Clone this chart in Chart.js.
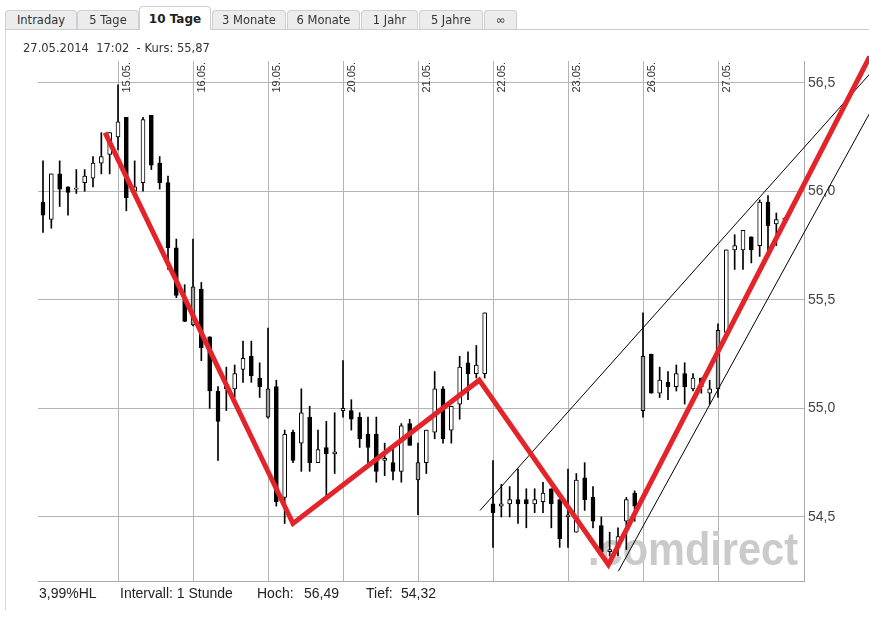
<!DOCTYPE html>
<html>
<head>
<meta charset="utf-8">
<script src="https://cdn.jsdelivr.net/npm/chart.js@4/dist/chart.umd.min.js"></script>
<style>
    body { margin: 0; background: #fff; width: 869px; height: 633px; overflow: hidden; position: relative;
           font-family: 'DejaVu Sans', Verdana, sans-serif; color: #333; }
    #chart { position: absolute; left: 0; top: 0; }
    .panel { position: absolute; left: 5px; top: 29px; width: 880px; height: 580px;
             border-left: 1px solid #d6d6d6; border-top: 1px solid #cccccc; }
    .tab { position: absolute; top: 10px; height: 19px; box-sizing: border-box; background: #ececec;
           border: 1px solid #cfcfcf; border-bottom: none; border-radius: 4px 4px 0 0;
           font-size: 11.5px; line-height: 18px; text-align: center; color: #333; }
    .tab.active { top: 6px; height: 24px; background: #fff; font-weight: bold; font-size: 12px;
                  line-height: 24px; color: #222; z-index: 2; }
    .head { position: absolute; left: 23px; top: 41px; font-size: 11.5px; white-space: pre; color: #333; }
    .foot { position: absolute; top: 585px; font-family: 'Liberation Sans', Arial, sans-serif;
            font-size: 14px; line-height: 16px; color: #222; white-space: pre; }
</style>
</head>
<body>
<canvas id="chart" width="869" height="633"></canvas>
<div class="panel"></div>
<div class="tab" style="left:5px;width:72px">Intraday</div>
<div class="tab" style="left:77px;width:62px">5 Tage</div>
<div class="tab active" style="left:139px;width:72px">10 Tage</div>
<div class="tab" style="left:212px;width:74px">3 Monate</div>
<div class="tab" style="left:287px;width:73px">6 Monate</div>
<div class="tab" style="left:361px;width:57px">1 Jahr</div>
<div class="tab" style="left:419px;width:64px">5 Jahre</div>
<div class="tab" style="left:484px;width:33px">∞</div>
<div class="head">27.05.2014  17:02  - Kurs: 55,87</div>
<div class="foot" style="left:39px">3,99%HL</div>
<div class="foot" style="left:120px">Intervall: 1 Stunde</div>
<div class="foot" style="left:257px">Hoch:</div>
<div class="foot" style="left:304px">56,49</div>
<div class="foot" style="left:366px">Tief:</div>
<div class="foot" style="left:401px">54,32</div>
<script>
// Handelstage, je 9 Stundenkerzen
const days = ['14.05.', '15.05.', '16.05.', '19.05.', '20.05.', '21.05.', '22.05.', '23.05.', '26.05.', '27.05.'];
const candlesPerDay = 9;

const opens = [
    55.95, 55.87, 56.08, 56.02, 56.01, 56.04, 56.06, 56.13, 56.17,
    56.25, 56.34, 56.00, 56.04, 56.35, 56.13, 56.04, 55.74, 55.50,
    55.56, 55.55, 55.33, 55.08, 55.09, 55.09, 55.18, 55.24, 55.14,
    55.09, 55.10, 54.59, 54.89, 54.84, 54.96, 54.75, 54.82, 54.79,
    54.99, 54.99, 54.96, 54.88, 54.88, 54.76, 54.75, 54.71, 54.93,
    54.75, 54.75, 54.89, 55.09, 54.90, 55.02, 55.21, 55.16, 55.16,
    54.56, 54.55, 54.56, 54.58, 54.58, 54.56, 54.57, 54.63, 54.58,
    54.50, 54.43, 54.68, 54.59, 54.46, 54.34, 54.36, 54.48, 54.61,
    55.24, 55.25, 55.07, 55.12, 55.10, 55.16, 55.09, 55.14, 55.07,
    55.36, 55.35, 55.73, 55.73, 55.79, 55.75, 55.95, 55.85, 55.87
];
const highs = [
    56.14, 56.08, 56.14, 56.02, 56.10, 56.10, 56.16, 56.27, 56.27,
    56.49, 56.34, 56.14, 56.34, 56.35, 56.16, 56.07, 55.78, 55.57,
    55.78, 55.58, 55.33, 55.10, 55.19, 55.20, 55.31, 55.31, 55.21,
    55.37, 55.13, 54.90, 54.90, 55.09, 55.01, 54.90, 54.94, 54.98,
    55.22, 55.04, 54.98, 54.96, 54.96, 54.84, 54.82, 54.93, 54.95,
    54.84, 54.90, 55.17, 55.10, 55.01, 55.24, 55.26, 55.29, 55.44,
    54.76, 54.65, 54.64, 54.72, 54.63, 54.63, 54.66, 54.63, 54.58,
    54.72, 54.70, 54.75, 54.64, 54.50, 54.43, 54.45, 54.59, 54.62,
    55.44, 55.25, 55.19, 55.17, 55.20, 55.21, 55.16, 55.14, 55.13,
    55.39, 55.73, 55.80, 55.82, 55.79, 55.96, 55.98, 55.90, 55.88
];
const lows = [
    55.81, 55.83, 55.93, 55.89, 55.99, 56.00, 56.02, 56.08, 56.08,
    56.19, 55.91, 55.99, 56.00, 56.10, 56.01, 55.64, 55.51, 55.40,
    55.38, 55.22, 55.00, 54.76, 54.99, 55.05, 55.12, 55.12, 55.05,
    54.955, 54.55, 54.47, 54.75, 54.71, 54.71, 54.75, 54.59, 54.70,
    54.96, 54.90, 54.82, 54.73, 54.66, 54.69, 54.67, 54.66, 54.83,
    54.51, 54.70, 54.86, 54.84, 54.84, 54.95, 55.04, 55.14, 55.14,
    54.36, 54.50, 54.50, 54.47, 54.45, 54.52, 54.52, 54.45, 54.36,
    54.36, 54.43, 54.53, 54.45, 54.32, 54.32, 54.32, 54.35, 54.48,
    54.96, 55.07, 55.05, 55.04, 55.08, 55.02, 55.08, 55.07, 55.02,
    55.05, 55.35, 55.64, 55.64, 55.67, 55.70, 55.71, 55.75, 55.86
];
const closes = [
    55.89, 56.08, 56.01, 55.995, 56.015, 56.07, 56.13, 56.16, 56.27,
    56.32, 55.97, 56.02, 56.33, 56.12, 56.04, 55.74, 55.52, 55.40,
    55.385, 55.28, 55.08, 54.94, 55.11, 55.16, 55.23, 55.15, 55.10,
    54.96, 54.57, 54.88, 54.76, 54.98, 54.75, 54.81, 54.79, 54.80,
    55.00, 54.95, 54.86, 54.82, 54.71, 54.77, 54.71, 54.92, 54.83,
    54.67, 54.90, 55.09, 54.86, 55.01, 55.19, 55.16, 55.20, 55.44,
    54.52, 54.56, 54.58, 54.56, 54.56, 54.58, 54.61, 54.56, 54.40,
    54.51, 54.67, 54.58, 54.48, 54.34, 54.35, 54.41, 54.58, 54.55,
    54.99, 55.07, 55.13, 55.10, 55.16, 55.10, 55.14, 55.10, 55.09,
    55.09, 55.73, 55.75, 55.82, 55.73, 55.95, 55.84, 55.87, 55.875
];
// graue Kerzen (Eröffnung nach Lücke)
const grayCandles = [18, 27, 45, 72, 81];

const yTicks = [54.5, 55.0, 55.5, 56.0, 56.5];

// eingezeichnete Trendlinien (x = Kerzenindex)
const zigzagX = [7.45, 30.0, 52.35, 67.85, 99.2];
const zigzagY = [56.27, 54.47, 55.13, 54.28, 56.62];
const upperChannelX = [52.44, 99.2];
const upperChannelY = [54.53, 56.54];
const lowerChannelX = [69.04, 99.2];
const lowerChannelY = [54.25, 56.36];

const idx = closes.map((_, i) => i);
const bodyColors = idx.map(i => grayCandles.includes(i) ? '#9c9c9c' : (closes[i] >= opens[i] ? '#ffffff' : '#000000'));
const toPoints = (xs, ys) => xs.map((x, i) => ({ x, y: ys[i] }));

/**
 * Wasserzeichen und senkrechte Datumsbeschriftung
 */
const decorations = {
    id: 'decorations',
    beforeDatasetsDraw(chart) {
        const { ctx, chartArea, scales: { x } } = chart;

        ctx.save();
        ctx.font = 'bold 46px "Liberation Sans", Arial, sans-serif';
        ctx.fillStyle = '#cacaca';
        ctx.textAlign = 'right';
        ctx.textBaseline = 'alphabetic';
        const mark = '.comdirect';
        const w = ctx.measureText(mark).width;
        ctx.translate(chartArea.right - 6, chartArea.bottom - 16);
        ctx.scale(210 / w, 1);
        ctx.fillText(mark, 0, 0);
        ctx.restore();

        ctx.save();
        ctx.font = '11px "Liberation Sans", Arial, sans-serif';
        ctx.fillStyle = '#333';
        ctx.textAlign = 'right';
        ctx.textBaseline = 'top';
        days.forEach((d, k) => {
            if (!k) return;
            const px = x.getPixelForValue(k * candlesPerDay);
            ctx.save();
            ctx.translate(px + 3.5, chartArea.top + 1);
            ctx.rotate(-Math.PI / 2);
            ctx.fillText(d, 0, 0);
            ctx.restore();
        });
        ctx.restore();
    }
};

new Chart(document.getElementById('chart'), {
    type: 'bar',
    data: {
        datasets: [
            { type: 'line', data: toPoints(zigzagX, zigzagY), borderColor: '#e3242b', borderWidth: 5,
              pointRadius: 0, clip: false, borderJoinStyle: 'miter', order: 0 },
            { type: 'line', data: toPoints(upperChannelX, upperChannelY), borderColor: '#000', borderWidth: 1,
              pointRadius: 0, clip: false, order: 1 },
            { type: 'line', data: toPoints(lowerChannelX, lowerChannelY), borderColor: '#000', borderWidth: 1,
              pointRadius: 0, clip: false, order: 1 },
            { type: 'bar', data: idx.map(i => ({ x: i, y: [opens[i], closes[i]] })), backgroundColor: bodyColors,
              borderColor: '#000', borderWidth: 1, borderSkipped: false, barThickness: 4, grouped: false, order: 2 },
            { type: 'bar', data: idx.map(i => ({ x: i, y: [lows[i], highs[i]] })), backgroundColor: '#000',
              borderWidth: 0, barThickness: 1, grouped: false, order: 3 },
        ],
    },
    options: {
        responsive: false,
        animation: false,
        events: [],
        layout: { padding: { left: 38, top: 61, bottom: 52, right: 0 } },
        plugins: { legend: { display: false }, tooltip: { enabled: false } },
        scales: {
            x: {
                type: 'linear', min: -0.6, max: 91.32, offset: false,
                afterBuildTicks: s => { s.ticks = days.slice(1).map((_, k) => ({ value: (k + 1) * candlesPerDay })); },
                afterFit: s => { s.height = 0; },
                ticks: { display: false },
                grid: { color: '#b4b4b4', drawTicks: false, offset: false },
                border: { color: '#a8a8a8' },
            },
            y: {
                position: 'right', min: 54.205, max: 56.6,
                afterBuildTicks: s => { s.ticks = yTicks.map(v => ({ value: v })); },
                afterFit: s => { s.width = 65; },
                ticks: {
                    callback: v => v.toFixed(1).replace('.', ','),
                    font: { family: '"Liberation Sans", Arial, sans-serif', size: 14 },
                    color: '#444', padding: 4,
                },
                grid: { color: '#b4b4b4', drawTicks: false },
                border: { color: '#a8a8a8' },
            },
        },
    },
    plugins: [decorations],
});
</script>
</body>
</html>
